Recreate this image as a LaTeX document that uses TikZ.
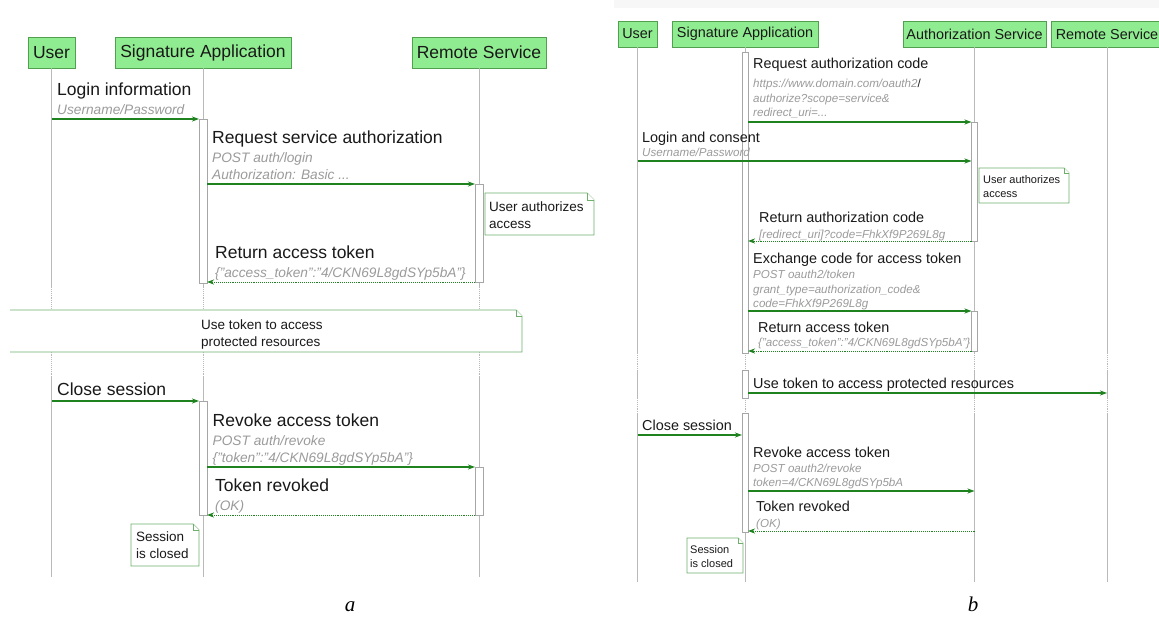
\documentclass[tikz,border=0pt]{standalone}
\usepackage{fontspec}
\setmainfont{Liberation Sans}
\newfontfamily\capserif{Liberation Serif}
\usetikzlibrary{arrows.meta}

\definecolor{boxfill}{RGB}{144,236,144}
\definecolor{boxline}{RGB}{80,160,80}
\definecolor{msggreen}{RGB}{30,130,30}
\definecolor{notegreen}{RGB}{110,175,110}
\definecolor{lifegray}{RGB}{185,185,185}
\definecolor{subgray}{RGB}{155,155,155}
\definecolor{ink}{RGB}{25,25,25}

% text sizes of screenshot a and b
\newcommand{\titA}{\fontsize{17.5}{17.3}\selectfont\upshape}
\newcommand{\subA}{\fontsize{13.7}{17.3}\selectfont\itshape\color{subgray}}
\newcommand{\titB}{\fontsize{14.4}{14.5}\selectfont\upshape}
\newcommand{\subB}{\fontsize{11.6}{14.5}\selectfont\itshape\color{subgray}}

% note with folded corner: x1, y1, x2, y2, fold
\newcommand{\notebox}[5]{%
  \filldraw[note] (#1,#2) -- ({#3-#5},#2) -- (#3,{#2+#5}) -- (#3,#4) -- (#1,#4) -- cycle;
  \draw[note] ({#3-#5},#2) -- ({#3-#5},{#2+#5}) -- (#3,{#2+#5});}

\begin{document}
\begin{tikzpicture}[x=1pt, y=-1pt,
    actor/.style={draw=boxline, fill=boxfill, line width=0.9pt, inner sep=0pt, text=ink},
    life/.style={draw=lifegray, line width=0.9pt},
    lifegap/.style={life, densely dotted},
    act/.style={draw=black!35, fill=white, line width=0.8pt},
    msg/.style={draw=msggreen, line width=1.1pt, -{Stealth[length=7pt,width=5pt,inset=2pt]}},
    ret/.style={msg, densely dotted, line width=1pt},
    note/.style={draw=notegreen, fill=white, line width=0.8pt},
    lblA/.style={anchor=south west, inner sep=0pt, align=left, text depth=0pt, text=ink, font=\fontsize{13.7}{17.3}\selectfont},
    lblB/.style={lblA, font=\fontsize{11.6}{14.5}\selectfont},
    notetxtA/.style={anchor=south west, inner sep=0pt, align=left, text depth=0pt, text=ink, font=\fontsize{13.5}{17}\selectfont},
    notetxtB/.style={notetxtA, font=\fontsize{11}{14}\selectfont},
    capt/.style={anchor=base, inner sep=0pt, font=\capserif\itshape\fontsize{21}{21}\selectfont}]
    \useasboundingbox (0,0) rectangle (1159,623);
    \fill[white] (0,0) rectangle (1159,623);

    %% ---------------- a ----------------
    \node[actor, minimum width=47, minimum height=31, font=\titA] (ua) at (51.5,52.5) {User};
    \node[actor, minimum width=176, minimum height=31, font=\titA] (sa) at (203,52.5) {Signature Application};
    \node[actor, minimum width=134, minimum height=31, font=\titA] (ra) at (479,52.5) {Remote Service};

    \foreach \n in {ua,sa,ra}{
        \draw[life] (\n.south) -- (\n.south |- 0,287);
        \draw[lifegap] (\n.south |- 0,287) -- (\n.south |- 0,377);
        \draw[life] (\n.south |- 0,377) -- (\n.south |- 0,577);
    }

    \draw[act] (199,119) rectangle (207,283);
    \draw[act] (475,184) rectangle (483,282);
    \draw[act] (199,401) rectangle (207,515);
    \draw[act] (475,467) rectangle (483,515);

    \coordinate (a1s) at (52,119);  \coordinate (a1e) at (199,119);
    \coordinate (a2s) at (207,184); \coordinate (a2e) at (475,184);
    \coordinate (a3s) at (475,282); \coordinate (a3e) at (207,282);
    \coordinate (a4s) at (52,401);  \coordinate (a4e) at (199,401);
    \coordinate (a5s) at (207,467); \coordinate (a5e) at (475,467);
    \coordinate (a6s) at (475,515); \coordinate (a6e) at (207,515);

    \draw[msg] (a1s) -- (a1e);
    \draw[msg] (a2s) -- (a2e);
    \draw[ret] (a3s) -- (a3e);
    \draw[msg] (a4s) -- (a4e);
    \draw[msg] (a5s) -- (a5e);
    \draw[ret] (a6s) -- (a6e);

    \node[lblA] (la1) at (57,115) {\titA Login information\\[2pt]\subA Username/Password};
    \node[lblA] (la2) at (212,180) {\titA Request service authorization\\[2pt]\subA POST auth/login\\\subA Authorization: Basic ...};
    \node[lblA] (la3) at (215,278) {\titA Return access token\\[2pt]\subA \{"access\_token":"4/CKN69L8gdSYp5bA"\}};
    \node[lblA] (la4) at (57,396) {\titA Close session};
    \node[lblA] (la5) at (212.5,463) {\titA Revoke access token\\[2pt]\subA POST auth/revoke\\\subA \{"token":"4/CKN69L8gdSYp5bA"\}};
    \node[lblA] (la6) at (215,511) {\titA Token revoked\\[2pt]\subA (OK)};

    \notebox{485}{193}{594}{235}{7}
    \node[notetxtA] (na1) at (489,229) {User authorizes\\access};
    % wide note, cut at the left
    \fill[white] (10,310) rectangle (522,352);
    \draw[note] (10,310) -- (516,310) -- (522,316) -- (522,352) -- (10,352);
    \draw[note] (516,310) -- (516,316) -- (522,316);
    \node[notetxtA] (na2) at (201,346.5) {Use token to access\\protected resources};
    \notebox{131}{524}{199}{566}{6}
    \node[notetxtA] (na3) at (136,559) {Session\\is closed};

    \node[capt] (capa) at (350,611) {a};

    %% ---------------- b ----------------
    \fill[black!3] (614,0) rectangle (1159,8);
    \node[actor, minimum width=39, minimum height=26, font=\titB] (ub) at (637.5,34) {User};
    \node[actor, minimum width=146, minimum height=26, font=\titB] (sb) at (745,34) {Signature Application};
    \node[actor, minimum width=143, minimum height=26, font=\titB] (asb) at (974.5,34) {Authorization Service};
    \node[actor, minimum width=112, minimum height=26, font=\titB] (rsb) at (1107,34) {Remote Service};

    \foreach \n in {ub,sb,asb,rsb}{
        \draw[life] (\n.south) -- (\n.south |- 0,353);
        \draw[lifegap] (\n.south |- 0,353) -- (\n.south |- 0,370);
        \draw[life] (\n.south |- 0,370) -- (\n.south |- 0,398);
        \draw[lifegap] (\n.south |- 0,398) -- (\n.south |- 0,413);
        \draw[life] (\n.south |- 0,413) -- (\n.south |- 0,582);
    }

    \draw[act] (742,52) rectangle (748,353);
    \draw[act] (742,370) rectangle (748,398);
    \draw[act] (742,413) rectangle (748,532);
    \draw[act] (971.5,122) rectangle (977.5,241);
    \draw[act] (971.5,311) rectangle (977.5,351);

    \coordinate (b1s) at (748,122);   \coordinate (b1e) at (971.5,122);
    \coordinate (b2s) at (637.5,161); \coordinate (b2e) at (971.5,161);
    \coordinate (b3s) at (971.5,241); \coordinate (b3e) at (748,241);
    \coordinate (b4s) at (748,311);   \coordinate (b4e) at (971.5,311);
    \coordinate (b5s) at (971.5,351); \coordinate (b5e) at (748,351);
    \coordinate (b6s) at (748,393);   \coordinate (b6e) at (1107,393);
    \coordinate (b7s) at (637.5,435); \coordinate (b7e) at (742,435);
    \coordinate (b8s) at (748,491);   \coordinate (b8e) at (974.5,491);
    \coordinate (b9s) at (974.5,531); \coordinate (b9e) at (748,531);

    \draw[msg] (b1s) -- (b1e);
    \draw[msg] (b2s) -- (b2e);
    \draw[ret] (b3s) -- (b3e);
    \draw[msg] (b4s) -- (b4e);
    \draw[ret] (b5s) -- (b5e);
    \draw[msg] (b6s) -- (b6e);
    \draw[msg] (b7s) -- (b7e);
    \draw[msg] (b8s) -- (b8e);
    \draw[ret] (b9s) -- (b9e);

    \node[lblB] (lb1) at (753,117) {\titB Request authorization code\\[4.5pt]\subB https://www.domain.com/oauth2{\upshape\color{ink}/}\\\subB authorize?scope=service\&\\\subB redirect\_uri=...};
    \node[lblB] (lb2) at (642,157) {\titB Login and consent\\[-0.5pt]\subB Username/Password};
    \node[lblB] (lb3) at (759,239) {\titB Return authorization code\\[1.5pt]\subB {[}redirect\_uri{]}?code=FhkXf9P269L8g};
    \node[lblB] (lb4) at (753,308) {\titB Exchange code for access token\\[0.5pt]\subB POST oauth2/token\\\subB grant\_type=authorization\_code\&\\\subB code=FhkXf9P269L8g};
    \node[lblB] (lb5) at (758,347) {\titB Return access token\\\subB \{"access\_token":"4/CKN69L8gdSYp5bA"\}};
    \node[lblB] (lb6) at (753,389) {\titB Use token to access protected resources};
    \node[lblB] (lb7) at (642,431) {\titB Close session};
    \node[lblB] (lb8) at (753,487) {\titB Revoke access token\\[0.5pt]\subB POST oauth2/revoke\\\subB token=4/CKN69L8gdSYp5bA};
    \node[lblB] (lb9) at (756,528) {\titB Token revoked\\[1.5pt]\subB (OK)};

    \notebox{979}{168}{1069}{203}{5}
    \node[notetxtB] (nb1) at (983,198) {User authorizes\\access};
    \notebox{687}{538}{743}{573}{5}
    \node[notetxtB] (nb2) at (690,568) {Session\\is closed};

    \node[capt] (capb) at (973,611) {b};
\end{tikzpicture}
\end{document}
